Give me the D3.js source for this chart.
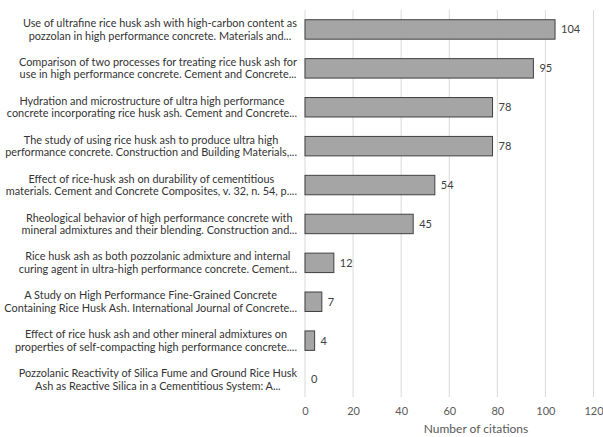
<!DOCTYPE html>
<html><head><meta charset="utf-8">
<script src="https://cdn.jsdelivr.net/npm/d3@7"></script>
<style>body{margin:0;background:#fff;} svg{display:block;}</style>
</head><body>
<svg id="c" width="603" height="437"></svg>
<script>
const categories = [
  ["Use of ultrafine rice husk ash with high-carbon content as", "pozzolan in high performance concrete. Materials and..."],
  ["Comparison of two processes for treating rice husk ash for", "use in high performance concrete. Cement and Concrete..."],
  ["Hydration and microstructure of ultra high performance", "concrete incorporating rice husk ash. Cement and Concrete..."],
  ["The study of using rice husk ash to produce ultra high", "performance concrete. Construction and Building Materials,..."],
  ["Effect of rice-husk ash on durability of cementitious", "materials. Cement and Concrete Composites, v. 32, n. 54, p...."],
  ["Rheological behavior of high performance concrete with", "mineral admixtures and their blending. Construction and..."],
  ["Rice husk ash as both pozzolanic admixture and internal", "curing agent in ultra-high performance concrete. Cement..."],
  ["A Study on High Performance Fine-Grained Concrete", "Containing Rice Husk Ash. International Journal of Concrete..."],
  ["Effect of rice husk ash and other mineral admixtures on", "properties of self-compacting high performance concrete...."],
  ["Pozzolanic Reactivity of Silica Fume and Ground Rice Husk", "Ash as Reactive Silica in a Cementitious System: A..."]
];
const citations = [104, 95, 78, 78, 54, 45, 12, 7, 4, 0];
const xTicks = [0, 20, 40, 60, 80, 100, 120];
const axisTitle = "Number of citations";

const svg = d3.select("#c");
const font = "Lato, 'Liberation Sans', sans-serif";
const pLeft = 305, pRight = 593.5, pTop = 10, pBottom = 399;
const x = d3.scaleLinear().domain([0, 120]).range([pLeft, pRight]);
const y = d3.scaleBand().domain(d3.range(categories.length)).range([pTop, pBottom]).paddingInner(0.5).paddingOuter(0.25);

// gridlines
svg.append("g").selectAll("line").data(xTicks).join("line")
  .attr("x1", d => x(d)).attr("x2", d => x(d))
  .attr("y1", pTop).attr("y2", 397)
  .attr("stroke", "#d9d9d9").attr("stroke-width", 1);

// x axis tick labels
const xAxis = d3.axisBottom(x).tickValues(xTicks).tickSize(0).tickPadding(0);
const gx = svg.append("g").attr("transform", "translate(0,407)").call(xAxis);
gx.select(".domain").remove();
gx.selectAll("text").attr("font-family", font).attr("font-size", 11).attr("fill", "#595959");

// bars
svg.append("g").selectAll("rect").data(citations).join("rect")
  .attr("x", x(0)).attr("y", (d, i) => y(i))
  .attr("width", d => x(d) - x(0)).attr("height", y.bandwidth())
  .attr("fill", "#a5a5a5").attr("stroke", "#404040").attr("stroke-width", 1)
  .attr("display", d => d > 0 ? null : "none");

// value labels
svg.append("g").selectAll("text").data(citations).join("text")
  .attr("x", d => x(d) + 6).attr("y", (d, i) => y(i) + y.bandwidth() / 2)
  .attr("dy", "0.35em").attr("font-family", font).attr("font-size", 11)
  .attr("fill", "#404040").text(d => d);

// category labels
const lab = svg.append("g");
const rightEdge = 297;
categories.forEach((lines, i) => {
  const cy = y(i) + y.bandwidth() / 2;
  const g = lab.append("g");
  const texts = lines.map((t, j) => g.append("text")
    .attr("y", cy + (j - 0.5) * 12.5).attr("dy", "0.35em")
    .attr("font-family", font).attr("font-size", 10.9).attr("fill", "#333333")
    .attr("text-anchor", "middle").text(t));
  const w = d3.max(texts, t => t.node().getComputedTextLength());
  texts.forEach(t => t.attr("x", rightEdge - w / 2));
});

// axis title
svg.append("text").attr("x", 476).attr("y", 433).attr("text-anchor", "middle")
  .attr("font-family", font).attr("font-size", 12).attr("fill", "#595959").text(axisTitle);
</script>
</body></html>
